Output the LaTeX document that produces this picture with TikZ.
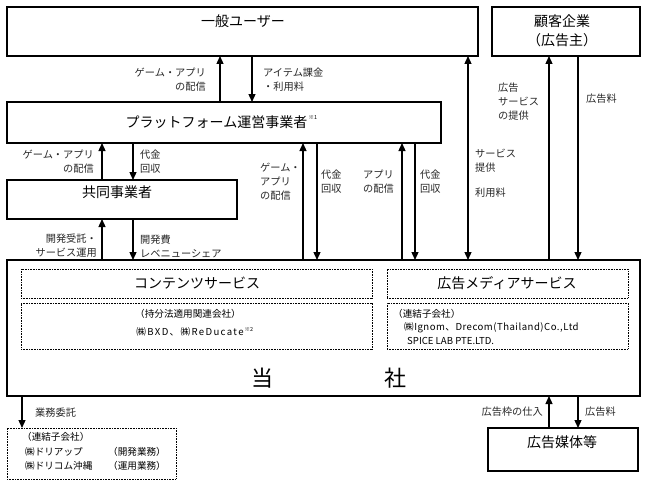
\documentclass[tikz,border=0pt]{standalone}
\usepackage{fontspec}
\setmainfont{Noto Sans CJK JP}
\usetikzlibrary{arrows.meta}
\begin{document}
\begin{tikzpicture}[x=1pt,y=-1pt,
  bx/.style={draw,line width=1.5pt,anchor=north west,inner sep=0pt,outer sep=0pt},
  dbx/.style={draw,line width=0.9pt,dash pattern=on 0.9pt off 0.7pt,anchor=north west,inner sep=0pt,outer sep=0pt},
  ar/.style={line width=1.3pt,-{Triangle[length=8pt,width=7pt]}},
  dar/.style={line width=1.3pt,{Triangle[length=8pt,width=7pt]}-{Triangle[length=8pt,width=7pt]}},
  lb/.style={font=\fontsize{10.2}{14}\selectfont,inner sep=0pt,text=black!85},
  lbl/.style={lb,anchor=west,align=left},
  lbr/.style={lb,anchor=east,align=right},
  tt/.style={font=\fontsize{14}{17}\selectfont,inner sep=0pt},
  sm/.style={font=\fontsize{9.6}{13}\selectfont,inner sep=0pt},
  sup/.style={font=\fontsize{5.5}{6}\selectfont,inner sep=0pt,anchor=north west}]
\useasboundingbox (0,0) rectangle (648,487);
% boxes
\node[bx,minimum width=471pt,minimum height=49pt] (user) at (7,7) {};
\node[bx,minimum width=148pt,minimum height=49pt] (client) at (492,7) {};
\node[bx,minimum width=434pt,minimum height=41pt] (plat) at (7,102) {};
\node[bx,minimum width=230pt,minimum height=39pt] (kyodo) at (7,180) {};
\node[bx,minimum width=633pt,minimum height=136pt] (tosha) at (7,260) {};
\node[bx,minimum width=150pt,minimum height=43pt] (media) at (488,428) {};
\node[dbx,minimum width=351pt,minimum height=29pt] (cs) at (21,269) {};
\node[dbx,minimum width=351pt,minimum height=46pt] (csub) at (21,303) {};
\node[dbx,minimum width=241pt,minimum height=29pt] (ad) at (387,269) {};
\node[dbx,minimum width=241pt,minimum height=46pt] (adsub) at (387,303) {};
\node[dbx,minimum width=169pt,minimum height=51pt] (sub) at (7,428) {};
% titles
\node[tt] (usert) at (243,21) {一般ユーザー};
\node[tt] (clientt1) at (562,21) {顧客企業};
\node[tt] (clientt2) at (562,40) {（広告主）};
\node[tt] (platt) at (216.5,122) {プラットフォーム運営事業者};
\node[sup] (plats) at ([xshift=1pt]platt.north east) {※1};
\node[tt] (kyodot) at (117,192) {共同事業者};
\node[font=\fontsize{22}{24}\selectfont,inner sep=0pt] (to) at (262,378) {当};
\node[font=\fontsize{22}{24}\selectfont,inner sep=0pt] (sha) at (395,378) {社};
\node[tt] (cst) at (197,283) {コンテンツサービス};
\node[sm] (csub1) at (188,314) {（持分法適用関連会社）};
\node[sm] (csub2) at (190,332) {\addfontfeature{LetterSpace=14}㈱BXD、㈱ReDucate};
\node[sup] (csubs) at ([xshift=0.5pt]csub2.north east) {※2};
\node[tt] (adt) at (507,283) {広告メディアサービス};
\node[sm,anchor=west] (adsub1) at (393,314) {（連結子会社）};
\node[sm,anchor=west] (adsub2) at (404,328) {\addfontfeature{LetterSpace=5}㈱Ignom、Drecom(Thailand)Co.,Ltd};
\node[sm,anchor=west] (adsub3) at (407,341) {SPICE LAB PTE.LTD.};
\node[sm,anchor=west] (sub1) at (22,437) {（連結子会社）};
\node[sm,anchor=west] (sub2) at (25,452) {㈱ドリアップ};
\node[sm,anchor=east] (sub2b) at (166,452) {（開発業務）};
\node[sm,anchor=west] (sub3) at (25,466) {㈱ドリコム沖縄};
\node[sm,anchor=east] (sub3b) at (166,466) {（運用業務）};
\node[tt] (mediat) at (562,442) {広告媒体等};
% arrows
\draw[ar] (220,0 |- plat.north) -- (220,0 |- user.south);
\draw[ar] (252,0 |- user.south) -- (252,0 |- plat.north);
\draw[ar] (102,0 |- kyodo.north) -- (102,0 |- plat.south);
\draw[ar] (133,0 |- plat.south) -- (133,0 |- kyodo.north);
\draw[ar] (102,0 |- tosha.north) -- (102,0 |- kyodo.south);
\draw[ar] (133,0 |- kyodo.south) -- (133,0 |- tosha.north);
\draw[ar] (303,0 |- tosha.north) -- (303,0 |- plat.south);
\draw[ar] (317,0 |- plat.south) -- (317,0 |- tosha.north);
\draw[ar] (402,0 |- tosha.north) -- (402,0 |- plat.south);
\draw[ar] (415,0 |- plat.south) -- (415,0 |- tosha.north);
\draw[dar] (468,0 |- user.south) -- (468,0 |- tosha.north);
\draw[ar] (549,0 |- tosha.north) -- (549,0 |- client.south);
\draw[ar] (578,0 |- client.south) -- (578,0 |- tosha.north);
\draw[ar] (22,0 |- tosha.south) -- (22,0 |- sub.north);
\draw[ar] (549,0 |- media.north) -- (549,0 |- tosha.south);
\draw[ar] (578,0 |- tosha.south) -- (578,0 |- media.north);
% labels
\node[lbr] (l1) at (206,79.5) {ゲーム・アプリ\\の配信};
\node[lbl] (l2) at (263,79.5) {アイテム課金\\・利用料};
\node[lbr] (l3) at (94,162) {ゲーム・アプリ\\の配信};
\node[lbl] (l4) at (140,162) {代金\\回収};
\node[lbr] (l5) at (97,246) {開発受託・\\サービス運用};
\node[lbl] (l6) at (140,246) {開発費\\レベニューシェア};
\node[lbl] (l7) at (260,182) {ゲーム・\\アプリ\\の配信};
\node[lbl] (l8) at (321,182) {代金\\回収};
\node[lbl] (l9) at (363,182) {アプリ\\の配信};
\node[lbl] (l10) at (420,182) {代金\\回収};
\node[lbl] (l11) at (475,161) {サービス\\提供};
\node[lbl] (l12) at (475,193) {利用料};
\node[lbl] (l13) at (498,102) {広告\\サービス\\の提供};
\node[lbl] (l14) at (586,99) {広告料};
\node[lbl] (l15) at (35,413) {業務委託};
\node[lbr] (l16) at (543,412) {広告枠の仕入};
\node[lbl] (l17) at (585,412) {広告料};
\end{tikzpicture}
\end{document}
